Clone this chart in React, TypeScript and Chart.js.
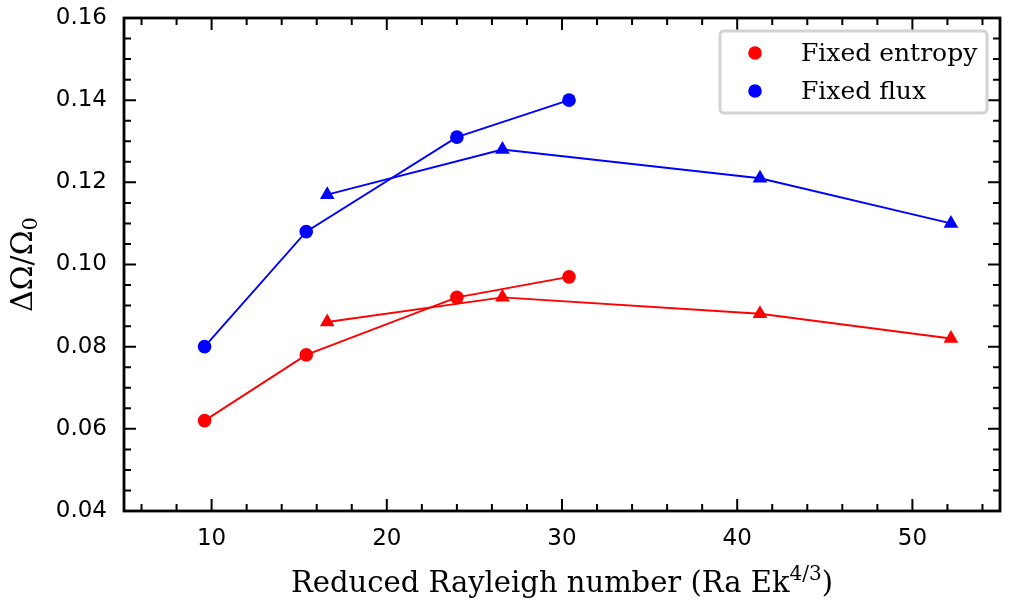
import React, { useEffect, useRef } from "react";
import { Chart, registerables } from "chart.js";

Chart.register(...registerables);

// circles: first run set, triangles: second run set
const xCircles = [9.6, 15.4, 24.0, 30.4];
const xTriangles = [16.6, 26.6, 41.3, 52.2];

const entropyCircles = [0.062, 0.078, 0.092, 0.097];
const entropyTriangles = [0.086, 0.092, 0.088, 0.082];
const fluxCircles = [0.080, 0.108, 0.131, 0.140];
const fluxTriangles = [0.117, 0.128, 0.121, 0.110];

const xTickValues = [10, 20, 30, 40, 50];
const yTickValues = [0.04, 0.06, 0.08, 0.1, 0.12, 0.14, 0.16];

const legendLabels = ["Fixed entropy", "Fixed flux"];
const xTitle = "Reduced Rayleigh number (Ra Ek";
const xTitleSup = "4/3";
const yTitle = "ΔΩ/Ω";
const yTitleSub = "0";

const RED = "#ff0000";
const BLUE = "#0000ff";

const pts = (xs: number[], ys: number[]) => xs.map((x, i) => ({ x, y: ys[i] }));

const frame = {
    id: "frame",
    afterDraw(chart: any) {
        const { ctx, chartArea: a, scales } = chart;
        const xs = scales.x;
        const ys = scales.y;
        ctx.save();
        ctx.strokeStyle = "#000";
        ctx.lineWidth = 2;
        const major = 12;
        const minor = 7;
        ctx.beginPath();
        for (let v = 6; v <= 54; v += 2) {
            const p = xs.getPixelForValue(v);
            const len = v % 10 === 0 ? major : minor;
            ctx.moveTo(p, a.bottom);
            ctx.lineTo(p, a.bottom - len);
            ctx.moveTo(p, a.top);
            ctx.lineTo(p, a.top + len);
        }
        for (let i = 0; i <= 24; i++) {
            const v = 0.04 + i * 0.005;
            const p = ys.getPixelForValue(v);
            const len = i % 4 === 0 ? major : minor;
            ctx.moveTo(a.left, p);
            ctx.lineTo(a.left + len, p);
            ctx.moveTo(a.right, p);
            ctx.lineTo(a.right - len, p);
        }
        ctx.stroke();
        ctx.lineWidth = 2.8;
        ctx.strokeRect(a.left, a.top, a.right - a.left, a.bottom - a.top);

        // legend
        const lx = 720, ly = 31, lw = 267, lh = 82;
        ctx.fillStyle = "rgba(255,255,255,0.8)";
        ctx.strokeStyle = "#d3d3d3";
        ctx.lineWidth = 3;
        ctx.beginPath();
        ctx.roundRect(lx, ly, lw, lh, 4);
        ctx.fill();
        ctx.stroke();
        const colors = [RED, BLUE];
        ctx.font = "25px 'DejaVu Serif'";
        ctx.textBaseline = "middle";
        legendLabels.forEach((t, i) => {
            const cy = ly + 22 + i * 38;
            ctx.fillStyle = colors[i];
            ctx.beginPath();
            ctx.arc(755, cy, 6.8, 0, Math.PI * 2);
            ctx.fill();
            ctx.fillStyle = "#000";
            ctx.fillText(t, 801, cy + 1);
        });

        // x title with superscript
        const big = "29px 'DejaVu Serif'";
        const small = "20px 'DejaVu Serif'";
        ctx.fillStyle = "#000";
        ctx.textBaseline = "alphabetic";
        ctx.font = big;
        const w1 = ctx.measureText(xTitle).width;
        const w3 = ctx.measureText(")").width;
        ctx.font = small;
        const w2 = ctx.measureText(xTitleSup).width;
        const cx = (a.left + a.right) / 2;
        const x0 = cx - (w1 + w2 + w3) / 2;
        const base = 592;
        ctx.font = big;
        ctx.fillText(xTitle, x0, base);
        ctx.fillText(")", x0 + w1 + w2, base);
        ctx.font = small;
        ctx.fillText(xTitleSup, x0 + w1, base - 12);

        // y title with subscript
        const ybig = "30px 'DejaVu Serif'";
        const ysmall = "21px 'DejaVu Serif'";
        ctx.translate(32, (a.top + a.bottom) / 2);
        ctx.rotate(-Math.PI / 2);
        ctx.font = ybig;
        const yw1 = ctx.measureText(yTitle).width;
        ctx.font = ysmall;
        const yw2 = ctx.measureText(yTitleSub).width;
        const y0 = -(yw1 + yw2) / 2;
        ctx.font = ybig;
        ctx.fillText(yTitle, y0, 0);
        ctx.font = ysmall;
        ctx.fillText(yTitleSub, y0 + yw1, 5);
        ctx.restore();
    },
};

const App: React.FC = () => {
    const chartRef = useRef<HTMLCanvasElement | null>(null);
    const chartInstance = useRef<Chart | null>(null);

    useEffect(() => {
        if (!chartRef.current) return;
        const ctx = chartRef.current.getContext("2d");
        if (!ctx) return;
        if (chartInstance.current) chartInstance.current.destroy();

        const series = (data: any[], color: string, style: string, label: string) => ({
            label,
            data,
            showLine: true,
            borderColor: color,
            backgroundColor: color,
            borderWidth: 1.9,
            pointStyle: style,
            pointRadius: style === "triangle" ? 8.5 : 6.8,
            pointBorderWidth: 0,
        });

        chartInstance.current = new Chart(ctx, {
            type: "scatter",
            data: {
                datasets: [
                    series(pts(xCircles, entropyCircles), RED, "circle", legendLabels[0]),
                    series(pts(xTriangles, entropyTriangles), RED, "triangle", ""),
                    series(pts(xCircles, fluxCircles), BLUE, "circle", legendLabels[1]),
                    series(pts(xTriangles, fluxTriangles), BLUE, "triangle", ""),
                ],
            },
            options: {
                animation: false,
                responsive: false,
                layout: { padding: { top: 18, right: 31, left: 0, bottom: 0 } },
                plugins: { legend: { display: false }, tooltip: { enabled: false } },
                scales: {
                    x: {
                        type: "linear",
                        min: 5,
                        max: 55,
                        grid: { display: false, drawTicks: false },
                        border: { display: false },
                        ticks: {
                            padding: 14,
                            color: "#000",
                            font: { family: "DejaVu Sans", size: 23 },
                            callback: (v: any) => String(v),
                        },
                        afterBuildTicks: (s: any) => {
                            s.ticks = xTickValues.map((value) => ({ value }));
                        },
                        afterFit: (s: any) => {
                            s.height = 89;
                            s.paddingLeft = 0;
                            s.paddingRight = 0;
                        },
                    },
                    y: {
                        min: 0.04,
                        max: 0.16,
                        grid: { display: false, drawTicks: false },
                        border: { display: false },
                        ticks: {
                            padding: 17,
                            color: "#000",
                            font: { family: "DejaVu Sans", size: 23 },
                            callback: (v: any) => Number(v).toFixed(2),
                        },
                        afterBuildTicks: (s: any) => {
                            s.ticks = yTickValues.map((value) => ({ value }));
                        },
                        afterFit: (s: any) => {
                            s.width = 124;
                            s.paddingTop = 0;
                            s.paddingBottom = 0;
                        },
                    },
                },
            },
            plugins: [frame],
        });

        return () => {
            if (chartInstance.current) {
                chartInstance.current.destroy();
                chartInstance.current = null;
            }
        };
    }, []);

    return (
        <div style={{ position: "absolute", left: 0, top: 0, width: 1031, height: 600, background: "#fff" }}>
            <canvas ref={chartRef} width={1031} height={600} />
        </div>
    );
};

export default App;
